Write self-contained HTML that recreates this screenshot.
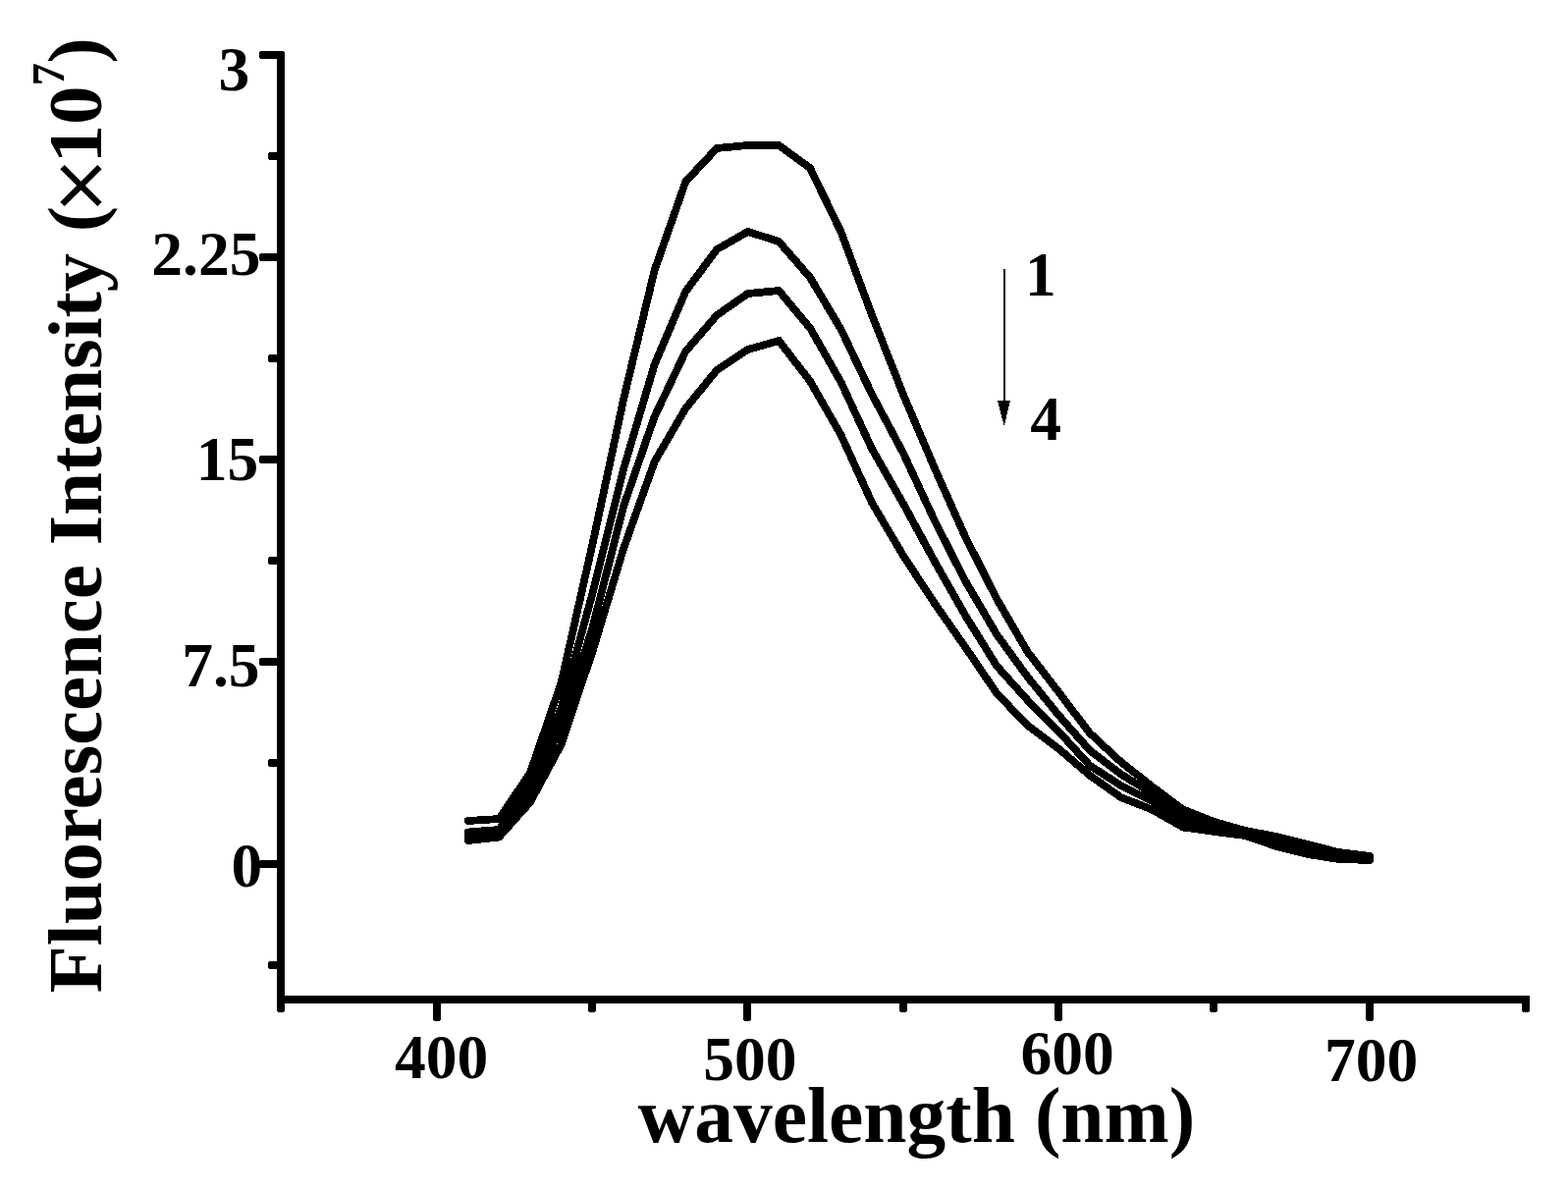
<!DOCTYPE html>
<html><head><meta charset="utf-8"><title>Fluorescence spectra</title>
<style>
html,body{margin:0;padding:0;background:#fff;}
svg{display:block;}
text{font-family:"Liberation Serif","Times New Roman",serif;font-weight:bold;}
</style></head>
<body>
<svg width="1597" height="1214" viewBox="0 0 1597 1214" shape-rendering="crispEdges">
<rect width="1597" height="1214" fill="#fff"/>
<g fill="none" stroke="#000" stroke-width="7.8" stroke-linejoin="miter" stroke-miterlimit="4" stroke-linecap="round">
<polyline points="476.7,836 508.3,834 540.0,787 571.7,695 603.3,555 635.0,407 666.7,275 698.3,185 730.0,151 761.7,148 793.3,148 825.0,171.1 856.7,236.5 888.3,321.6 920.0,401.9 951.7,476.5 983.3,547 1015.0,609.6 1046.7,664 1078.3,705 1110.0,746.7 1141.7,776 1173.3,801 1205.0,824.5 1236.7,837 1268.3,846 1300.0,852 1331.7,860 1363.3,868 1395.0,872"/>
<polyline points="476.7,847.5 508.3,845 540.0,798 571.7,721 603.3,605 635.0,478 666.7,371 698.3,297 730.0,254 761.7,236 793.3,246 825.0,282.5 856.7,335.8 888.3,402.2 920.0,461.5 951.7,530 983.3,592 1015.0,646 1046.7,689.6 1078.3,728.5 1110.0,764.3 1141.7,788.5 1173.3,808 1205.0,832 1236.7,840 1268.3,848 1300.0,855 1331.7,863 1363.3,870 1395.0,873"/>
<polyline points="476.7,851.5 508.3,849 540.0,808 571.7,738 603.3,640 635.0,516 666.7,424 698.3,358 730.0,321 761.7,299 793.3,296 825.0,334 856.7,389.5 888.3,457.7 920.0,513 951.7,571.5 983.3,627 1015.0,678 1046.7,713.3 1078.3,745 1110.0,779.7 1141.7,800 1173.3,816 1205.0,837 1236.7,844 1268.3,850 1300.0,858 1331.7,866 1363.3,873 1395.0,874"/>
<polyline points="476.7,856 508.3,852.5 540.0,817 571.7,758 603.3,664 635.0,559 666.7,470 698.3,416 730.0,377 761.7,356 793.3,347 825.0,388.1 856.7,443.4 888.3,512.5 920.0,565.9 951.7,614.3 983.3,659.3 1015.0,706 1046.7,738.9 1078.3,762.5 1110.0,789.8 1141.7,812 1173.3,824.6 1205.0,842.5 1236.7,847 1268.3,851 1300.0,862 1331.7,870 1363.3,875 1395.0,876"/>
</g>
<g fill="#000">
<rect x="282" y="52" width="8" height="979" rx="3"/>
<rect x="282" y="1014" width="1276" height="8" rx="2"/>
<rect x="264" y="52" width="24" height="8" rx="2.5"/>
<rect x="264" y="258" width="24" height="8" rx="2.5"/>
<rect x="264" y="464" width="24" height="8" rx="2.5"/>
<rect x="264" y="670" width="24" height="8" rx="2.5"/>
<rect x="264" y="876" width="24" height="8" rx="2.5"/>
<rect x="273" y="155" width="15" height="8" rx="2.5"/>
<rect x="273" y="361" width="15" height="8" rx="2.5"/>
<rect x="273" y="567" width="15" height="8" rx="2.5"/>
<rect x="273" y="773" width="15" height="8" rx="2.5"/>
<rect x="273" y="979" width="15" height="8" rx="2.5"/>
<rect x="441" y="1016" width="8" height="24" rx="3"/>
<rect x="757" y="1016" width="8" height="24" rx="3"/>
<rect x="1074" y="1016" width="8" height="24" rx="3"/>
<rect x="1391" y="1016" width="8" height="24" rx="3"/>
<rect x="599" y="1016" width="8" height="15" rx="3"/>
<rect x="916" y="1016" width="8" height="15" rx="3"/>
<rect x="1232" y="1016" width="8" height="15" rx="3"/>
<rect x="1550" y="1016" width="8" height="15" rx="3"/>
</g>
<g fill="#000" font-size="63.5">
<text x="222.6" y="92.4">3</text>
<text x="154.3" y="280.2">2.25</text>
<text x="199.7" y="488.8">15</text>
<text x="185.2" y="698.8">7.5</text>
<text x="235.6" y="903.4">0</text>
<text x="402.1" y="1098">400</text>
<text x="716.3" y="1100.4">500</text>
<text x="1039.5" y="1094.4">600</text>
<text x="1349.1" y="1100.8">700</text>
<text x="1043.9" y="301">1</text>
<text x="1049.3" y="447.8">4</text>
</g>
<text x="0" y="0" font-size="78.8" transform="translate(103 1011.35) rotate(-90)">Fluorescence Intensity <tspan x="775.1">(</tspan><tspan x="791.1" dy="3.4" font-size="74.5" font-family="'DejaVu Sans', sans-serif" font-weight="normal">×</tspan><tspan x="845" dy="-3.4">10</tspan><tspan x="923.95" dy="-38" font-size="47">7</tspan><tspan x="946.8" dy="38">)</tspan></text>
<text x="649.8" y="1162.5" font-size="79.5">wavelength (nm)</text>
<g>
<rect x="1021.5" y="274" width="2.6" height="136"/>
<polygon points="1016,408 1029,408 1022.7,434"/>
</g>
</svg>
</body></html>
